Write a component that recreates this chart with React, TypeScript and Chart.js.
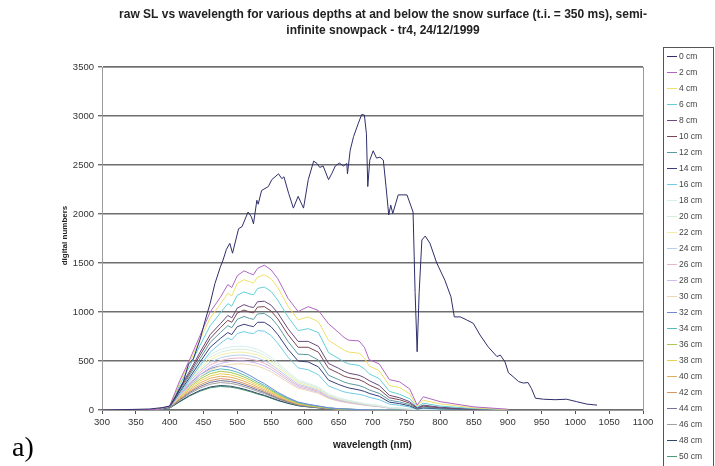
import React, { useEffect, useRef } from "react";
import { Chart, registerables } from "chart.js";

Chart.register(...registerables);

const TITLE_1 = "raw SL vs wavelength for various depths at and below the snow surface (t.i. = 350 ms), semi-";
const TITLE_2 = "infinite snowpack - tr4, 24/12/1999";
const X_TITLE = "wavelength (nm)";
const Y_TITLE = "digital numbers";
const PANEL = "a)";

const DEPTHS = ["0 cm", "2 cm", "4 cm", "6 cm", "8 cm", "10 cm", "12 cm", "14 cm", "16 cm", "18 cm", "20 cm", "22 cm", "24 cm", "26 cm", "28 cm", "30 cm", "32 cm", "34 cm", "36 cm", "38 cm", "40 cm", "42 cm", "44 cm", "46 cm", "48 cm", "50 cm"];

const COLORS = ["#2e2e6a", "#b066c2", "#efe06a", "#62cfd8", "#6a4a7c", "#7a4652", "#5a9aa2", "#3a3f7c", "#72cbe4", "#d6eeee", "#d6eed6", "#f3eda6", "#b4d0ee", "#e6b4cc", "#d2bcee", "#eed8b4", "#7088d8", "#56bcbc", "#a8c850", "#e8d050", "#e2b060", "#d89860", "#72729a", "#a0a0a0", "#2c4a68", "#4c9a72"];

// surface spectrum (0 cm)
const WL_0 = [300, 340, 370, 390, 400, 410, 420, 428, 435, 445, 452, 460, 467, 475, 479, 484, 489, 493, 502, 507, 516, 521, 524, 529, 531, 536, 546, 551, 561, 566, 569, 576, 583, 590, 598, 605, 613, 618, 622, 627, 635, 640, 645, 651, 657, 662, 663, 667, 672, 679, 684, 688, 691, 693, 696, 701, 706, 711, 716, 720, 724, 727, 730, 738, 751, 760, 763, 766, 769, 773, 778, 785, 795, 807, 816, 821, 830, 839, 849, 859, 871, 884, 889, 894, 896, 901, 908, 916, 923, 930, 935, 941, 953, 970, 987, 1002, 1017, 1032];
const D0 = [0, 5, 10, 25, 40, 150, 280, 470, 520, 720, 900, 1090, 1290, 1460, 1530, 1640, 1700, 1600, 1850, 1870, 2020, 1970, 1900, 2140, 2100, 2240, 2280, 2350, 2410, 2360, 2380, 2210, 2060, 2180, 2060, 2350, 2540, 2515, 2475, 2490, 2350, 2415, 2490, 2520, 2490, 2515, 2410, 2650, 2790, 2925, 3015, 3010, 2820, 2280, 2550, 2645, 2570, 2580, 2550, 2280, 1990, 2090, 2005, 2195, 2195, 2020, 1200, 595, 1200, 1735, 1775, 1700, 1500, 1325, 1155, 950, 950, 920, 885, 765, 645, 545, 560, 510, 490, 380, 340, 290, 275, 280, 220, 120, 110, 105, 110, 85, 60, 50];

// wavelengths of the brighter in-snow spectra (2-16 cm)
const WL_UP = [300, 380, 400, 415, 430, 445, 460, 475, 486, 492, 500, 510, 518, 524, 530, 540, 550, 560, 575, 590, 605, 620, 635, 650, 658, 665, 680, 688, 695, 710, 725, 740, 755, 766, 775, 800, 850, 900];

const D2 = [0, 5, 40, 300, 520, 760, 1000, 1150, 1280, 1250, 1370, 1420, 1395, 1380, 1445, 1478, 1430, 1340, 1140, 1005, 1055, 1015, 880, 790, 740, 712, 705, 640, 515, 470, 310, 287, 215, 50, 135, 85, 32, 8];
const D4 = [0, 5, 38, 280, 490, 720, 940, 1080, 1190, 1165, 1290, 1330, 1310, 1295, 1355, 1380, 1340, 1250, 1060, 920, 950, 900, 710, 645, 610, 590, 580, 530, 450, 400, 250, 230, 165, 40, 100, 62, 22, 5];
const D6 = [0, 5, 35, 260, 450, 660, 860, 990, 1085, 1060, 1170, 1205, 1185, 1175, 1240, 1255, 1210, 1120, 950, 810, 830, 790, 585, 525, 490, 470, 455, 420, 370, 320, 190, 160, 115, 30, 70, 40, 14, 3];
const D8 = [0, 4, 32, 230, 400, 590, 770, 880, 965, 940, 1040, 1075, 1055, 1045, 1105, 1110, 1070, 990, 830, 700, 700, 650, 475, 425, 395, 375, 355, 330, 300, 250, 150, 125, 85, 22, 50, 28, 9, 2];
const D10 = [0, 4, 30, 215, 380, 560, 730, 840, 915, 895, 990, 1020, 1000, 990, 1050, 1055, 1010, 930, 770, 640, 640, 590, 425, 375, 345, 330, 310, 285, 255, 210, 125, 105, 70, 18, 40, 22, 7, 2];
const D12 = [0, 4, 28, 200, 360, 525, 690, 790, 860, 840, 925, 955, 935, 925, 980, 985, 940, 860, 700, 570, 565, 510, 355, 310, 285, 270, 250, 230, 205, 170, 100, 82, 55, 14, 30, 16, 5, 1];
const D14 = [0, 4, 26, 185, 335, 490, 640, 730, 790, 770, 850, 875, 860, 850, 895, 895, 850, 770, 620, 500, 490, 440, 305, 260, 240, 225, 205, 190, 170, 140, 80, 65, 42, 10, 22, 12, 4, 1];
const D16 = [0, 4, 24, 170, 310, 455, 590, 680, 735, 715, 780, 800, 785, 780, 810, 805, 760, 680, 540, 430, 410, 360, 245, 205, 185, 175, 160, 148, 130, 105, 60, 48, 30, 8, 16, 9, 3, 0];

// wavelengths of the fainter in-snow spectra (18-50 cm)
const WL = [300, 380, 400, 415, 430, 445, 460, 475, 490, 500, 510, 520, 530, 540, 550, 560, 575, 590, 605, 620, 635, 650, 665, 680, 695, 710, 725, 740, 755, 766, 775, 800, 850, 900];

const D18 = [0, 5, 33, 195, 338, 468, 566, 618, 644, 650, 650, 637, 618, 585, 540, 481, 390, 306, 273, 234, 163, 124, 98, 78, 59, 46, 26, 20, 13, 3, 7, 3, 0, 0];
const D20 = [0, 5, 31, 186, 322, 446, 539, 589, 614, 620, 620, 608, 589, 558, 515, 459, 372, 291, 260, 223, 155, 118, 93, 74, 56, 43, 25, 19, 12, 3, 6, 3, 0, 0];
const D22 = [0, 5, 30, 177, 307, 425, 513, 561, 584, 590, 590, 578, 561, 531, 490, 437, 354, 277, 248, 212, 148, 112, 89, 71, 53, 41, 24, 18, 12, 3, 6, 3, 0, 0];
const D24 = [0, 5, 28, 168, 291, 403, 487, 532, 554, 560, 560, 549, 532, 504, 465, 414, 336, 263, 235, 202, 140, 106, 84, 67, 50, 39, 22, 17, 11, 3, 6, 3, 0, 0];
const D26 = [0, 5, 27, 159, 276, 382, 461, 504, 525, 530, 530, 519, 504, 477, 440, 392, 318, 249, 223, 191, 133, 101, 80, 64, 48, 37, 21, 16, 11, 3, 5, 3, 0, 0];
const D28 = [0, 5, 25, 150, 260, 360, 435, 475, 495, 500, 500, 490, 475, 450, 415, 370, 300, 235, 210, 180, 125, 95, 75, 60, 45, 35, 20, 15, 10, 3, 5, 3, 0, 0];
const D30 = [0, 5, 24, 141, 244, 338, 409, 447, 465, 470, 470, 461, 447, 423, 390, 348, 282, 221, 197, 169, 118, 89, 71, 56, 42, 33, 19, 14, 9, 2, 5, 2, 0, 0];
const D32 = [0, 5, 36, 158, 270, 360, 423, 450, 437, 414, 383, 347, 306, 270, 225, 180, 126, 81, 59, 41, 23, 14, 9, 5, 2, 0, 0, 0, 0, 0, 0, 0, 0, 0];
const D34 = [0, 4, 34, 147, 252, 336, 395, 420, 407, 386, 357, 323, 286, 252, 210, 168, 118, 76, 55, 38, 21, 13, 8, 4, 2, 0, 0, 0, 0, 0, 0, 0, 0, 0];
const D36 = [0, 4, 32, 138, 237, 316, 371, 395, 383, 363, 336, 304, 269, 237, 198, 158, 111, 71, 51, 36, 20, 12, 8, 4, 2, 0, 0, 0, 0, 0, 0, 0, 0, 0];
const D38 = [0, 4, 30, 130, 222, 296, 348, 370, 359, 340, 315, 285, 252, 222, 185, 148, 104, 67, 48, 33, 19, 11, 7, 4, 1, 0, 0, 0, 0, 0, 0, 0, 0, 0];
const D40 = [0, 3, 28, 121, 207, 276, 324, 345, 335, 317, 293, 266, 235, 207, 173, 138, 97, 62, 45, 31, 17, 10, 7, 3, 1, 0, 0, 0, 0, 0, 0, 0, 0, 0];
const D42 = [0, 3, 26, 112, 192, 256, 301, 320, 310, 294, 272, 246, 218, 192, 160, 128, 90, 58, 42, 29, 16, 10, 6, 3, 1, 0, 0, 0, 0, 0, 0, 0, 0, 0];
const D44 = [0, 3, 24, 105, 180, 240, 282, 300, 291, 276, 255, 231, 204, 180, 150, 120, 84, 54, 39, 27, 15, 9, 6, 3, 1, 0, 0, 0, 0, 0, 0, 0, 0, 0];
const D46 = [0, 3, 22, 98, 168, 224, 263, 280, 272, 258, 238, 216, 190, 168, 140, 112, 78, 50, 36, 25, 14, 8, 6, 3, 1, 0, 0, 0, 0, 0, 0, 0, 0, 0];
const D48 = [0, 3, 20, 88, 150, 200, 235, 250, 243, 230, 213, 193, 170, 150, 125, 100, 70, 45, 33, 23, 13, 8, 5, 3, 1, 0, 0, 0, 0, 0, 0, 0, 0, 0];
const D50 = [0, 2, 19, 84, 144, 192, 226, 240, 233, 221, 204, 185, 163, 144, 120, 96, 67, 43, 31, 22, 12, 7, 5, 2, 0, 0, 0, 0, 0, 0, 0, 0, 0, 0];

const UPPER_SERIES = [D2, D4, D6, D8, D10, D12, D14, D16];
const LOWER_SERIES = [D18, D20, D22, D24, D26, D28, D30, D32, D34, D36, D38, D40, D42, D44, D46, D48, D50];

const FONT = '"Liberation Sans", Arial, sans-serif';

const decorPlugin = {
  id: "decor",
  beforeDatasetsDraw(chart: any) {
    const { ctx, chartArea: a } = chart;
    ctx.save();
    ctx.strokeStyle = "#9a9a9a";
    ctx.lineWidth = 1;
    ctx.strokeRect(a.left + 0.5, a.top + 0.5, a.right - a.left, a.bottom - a.top);
    ctx.restore();
  },
  afterDraw(chart: any) {
    const { ctx, chartArea: a } = chart;
    ctx.save();
    ctx.fillStyle = "#222";
    ctx.textAlign = "center";
    ctx.textBaseline = "middle";
    ctx.font = `bold 12px ${FONT}`;
    ctx.fillText(TITLE_1, 383, 15);
    ctx.fillText(TITLE_2, 383, 31);

    ctx.font = `bold 10px ${FONT}`;
    ctx.fillText(X_TITLE, (a.left + a.right) / 2, 445);

    ctx.save();
    ctx.translate(65, (a.top + a.bottom) / 2 - 3);
    ctx.rotate(-Math.PI / 2);
    ctx.font = `bold 8px ${FONT}`;
    ctx.fillText(Y_TITLE, 0, 0);
    ctx.restore();

    // legend box
    ctx.strokeStyle = "#555";
    ctx.lineWidth = 1;
    ctx.strokeRect(663.5, 47.5, 50, 430);
    ctx.font = `8.5px ${FONT}`;
    ctx.textAlign = "left";
    DEPTHS.forEach((name, i) => {
      const y = 56 + i * 16;
      ctx.strokeStyle = COLORS[i];
      ctx.beginPath();
      ctx.moveTo(667, y + 0.5);
      ctx.lineTo(677, y + 0.5);
      ctx.stroke();
      ctx.fillStyle = "#444";
      ctx.fillText(name, 679, y + 0.5);
    });

    ctx.fillStyle = "#000";
    ctx.font = `28px "Liberation Serif", "Times New Roman", serif`;
    ctx.textBaseline = "alphabetic";
    ctx.fillText(PANEL, 12, 456);
    ctx.restore();
  },
};

function lineSet(label: string, xs: number[], ys: number[], color: string) {
  return {
    label,
    data: xs.map((x, i) => ({ x, y: ys[i] })),
    borderColor: color,
    borderWidth: 1,
    pointRadius: 0,
    showLine: true,
    tension: 0,
  };
}

export default function App() {
  const ref = useRef<HTMLCanvasElement | null>(null);
  useEffect(() => {
    if (!ref.current) return;
    const datasets: any[] = [lineSet(DEPTHS[0], WL_0, D0, COLORS[0])];
    UPPER_SERIES.forEach((s, k) => datasets.push(lineSet(DEPTHS[k + 1], WL_UP, s, COLORS[k + 1])));
    LOWER_SERIES.forEach((s, k) => datasets.push(lineSet(DEPTHS[k + 9], WL, s, COLORS[k + 9])));
    const chart = new Chart(ref.current, {
      type: "scatter",
      data: { datasets },
      options: {
        animation: false,
        responsive: false,
        devicePixelRatio: 1,
        layout: { padding: { left: 0, top: 67, right: 72, bottom: 0 } },
        plugins: { legend: { display: false }, tooltip: { enabled: false }, title: { display: false } },
        scales: {
          x: {
            type: "linear",
            min: 300,
            max: 1100,
            afterFit: (s: any) => { s.height = 56; },
            ticks: { stepSize: 50, color: "#333", font: { family: FONT, size: 9.5 }, maxRotation: 0, autoSkip: false, padding: 3, callback: (v: any) => String(v) },
            grid: { drawOnChartArea: false, drawTicks: true, tickLength: 4, color: "#555" },
            border: { color: "#555", width: 1 },
          },
          y: {
            min: 0,
            max: 3500,
            afterFit: (s: any) => { s.width = 102; },
            ticks: { stepSize: 500, color: "#333", font: { family: FONT, size: 9.5 }, padding: 4, callback: (v: any) => String(v) },
            grid: { color: "#6e6e6e", lineWidth: 1.4, tickLength: 4 },
            border: { color: "#555", width: 1 },
          },
        },
      },
      plugins: [decorPlugin],
    });
    return () => chart.destroy();
  }, []);
  return (
    <div style={{ position: "absolute", left: 0, top: 0, width: 715, height: 466, background: "#fff" }}>
      <canvas ref={ref} width={715} height={466} style={{ width: 715, height: 466 }} />
    </div>
  );
}
